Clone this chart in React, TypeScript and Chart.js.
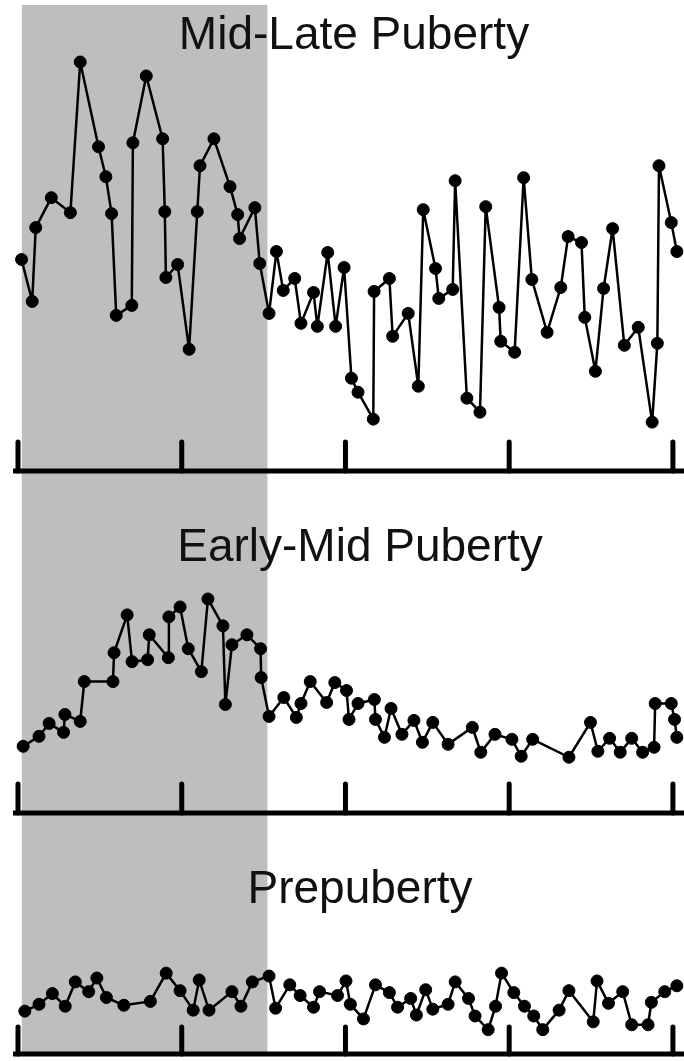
import React, { useEffect, useRef } from "react";
import { Chart, registerables } from "chart.js";

Chart.register(...registerables);

// Time axis (hours from start of sampling)
const tickHours = [0, 6, 12, 18, 24];
const xMax = 24.15;
const nightStart = 0.14;
const nightEnd = 9.14;

// Mid-Late Puberty
const midLateHours = [0.13, 0.52, 0.65, 1.22, 1.92, 2.28, 2.95, 3.22, 3.43, 3.6, 4.17, 4.21, 4.7, 5.3, 5.38, 5.42, 5.85, 6.27, 6.57, 6.67, 7.18, 7.77, 8.05, 8.12, 8.68, 8.86, 9.2, 9.47, 9.72, 10.14, 10.37, 10.83, 10.97, 11.35, 11.64, 11.95, 12.22, 12.46, 13.02, 13.05, 13.61, 13.73, 14.3, 14.67, 14.85, 15.3, 15.42, 15.93, 16.02, 16.45, 16.93, 17.14, 17.63, 17.69, 18.2, 18.53, 18.83, 19.39, 19.89, 20.16, 20.65, 20.77, 21.16, 21.46, 21.79, 22.22, 22.73, 23.24, 23.43, 23.49, 23.94, 24.145];
const midLateValues = [2.12, 1.7, 2.44, 2.74, 2.59, 4.1, 3.25, 2.95, 2.58, 1.56, 1.66, 3.29, 3.96, 3.33, 2.6, 1.94, 2.07, 1.22, 2.6, 3.06, 3.33, 2.85, 2.57, 2.33, 2.64, 2.08, 1.58, 2.2, 1.81, 1.93, 1.48, 1.79, 1.45, 2.19, 1.45, 2.04, 0.93, 0.79, 0.52, 1.8, 1.93, 1.35, 1.58, 0.85, 2.62, 2.03, 1.73, 1.82, 2.91, 0.73, 0.59, 2.65, 1.64, 1.3, 1.19, 2.94, 1.92, 1.39, 1.84, 2.35, 2.29, 1.54, 1.0, 1.83, 2.43, 1.26, 1.44, 0.49, 1.28, 3.06, 2.49, 2.2];

// Early-Mid Puberty
const earlyMidHours = [0.19, 0.77, 1.14, 1.67, 1.72, 2.28, 2.43, 3.48, 3.52, 4.0, 4.18, 4.75, 4.81, 5.51, 5.53, 5.94, 6.24, 6.72, 6.96, 7.51, 7.6, 7.84, 8.39, 8.89, 8.91, 9.2, 9.74, 10.2, 10.37, 10.71, 11.31, 11.61, 12.04, 12.13, 12.46, 13.06, 13.1, 13.43, 13.67, 14.07, 14.51, 14.82, 15.2, 15.76, 16.65, 16.96, 17.48, 18.1, 18.44, 18.86, 20.19, 20.98, 21.25, 21.68, 22.07, 22.49, 22.89, 23.31, 23.35, 23.94, 24.06, 24.145];
const earlyMidValues = [0.67, 0.77, 0.9, 0.81, 0.99, 0.92, 1.32, 1.32, 1.61, 1.99, 1.52, 1.54, 1.79, 1.56, 1.97, 2.07, 1.65, 1.42, 2.15, 1.88, 1.09, 1.69, 1.79, 1.65, 1.36, 0.97, 1.16, 0.96, 1.1, 1.32, 1.11, 1.31, 1.23, 0.94, 1.1, 1.14, 0.94, 0.76, 1.05, 0.79, 0.93, 0.71, 0.91, 0.69, 0.86, 0.61, 0.79, 0.74, 0.57, 0.74, 0.56, 0.91, 0.62, 0.75, 0.61, 0.75, 0.61, 0.66, 1.1, 1.1, 0.94, 0.76];

// Prepuberty
const prepubertyHours = [0.25, 0.77, 1.26, 1.73, 2.1, 2.59, 2.89, 3.24, 3.88, 4.85, 5.43, 5.94, 6.42, 6.64, 7.0, 7.84, 8.17, 8.59, 9.2, 9.44, 9.96, 10.34, 10.83, 11.05, 11.71, 12.02, 12.18, 12.66, 13.1, 13.61, 13.91, 14.39, 14.6, 14.94, 15.2, 15.76, 16.02, 16.51, 16.75, 17.23, 17.5, 17.72, 18.17, 18.56, 18.9, 19.23, 19.83, 20.19, 21.08, 21.22, 21.64, 22.16, 22.49, 23.09, 23.21, 23.7, 24.145];
const prepubertyValues = [0.44, 0.51, 0.62, 0.49, 0.74, 0.64, 0.78, 0.58, 0.5, 0.54, 0.83, 0.65, 0.45, 0.76, 0.45, 0.64, 0.49, 0.74, 0.8, 0.47, 0.71, 0.6, 0.48, 0.64, 0.6, 0.75, 0.51, 0.36, 0.71, 0.63, 0.48, 0.57, 0.4, 0.66, 0.46, 0.51, 0.74, 0.57, 0.39, 0.25, 0.49, 0.83, 0.63, 0.49, 0.39, 0.25, 0.45, 0.65, 0.33, 0.75, 0.52, 0.64, 0.3, 0.3, 0.53, 0.64, 0.7];

const panelTitles = ["Mid-Late Puberty", "Early-Mid Puberty", "Prepuberty"];

type PanelSpec = {
  title: string;
  hours: number[];
  values: number[];
  height: number;
  axisY: number;
  areaTop: number;
  yMax: number;
  bandTop: number;
  bandToAxis: boolean;
  titleX: number;
  titleBaseline: number;
  tickLen: number;
};

const panels: PanelSpec[] = [
  { title: panelTitles[0], hours: midLateHours, values: midLateValues, height: 478, axisY: 472, areaTop: 60, yMax: 4.12, bandTop: 5, bandToAxis: false, titleX: 354, titleBaseline: 49, tickLen: 29 },
  { title: panelTitles[1], hours: earlyMidHours, values: earlyMidValues, height: 342, axisY: 336, areaTop: 112, yMax: 2.24, bandTop: 0, bandToAxis: false, titleX: 360, titleBaseline: 83, tickLen: 29 },
  { title: panelTitles[2], hours: prepubertyHours, values: prepubertyValues, height: 241, axisY: 237, areaTop: 120, yMax: 1.17, bandTop: 0, bandToAxis: true, titleX: 360, titleBaseline: 83, tickLen: 27 },
];

const decorPlugin = {
  id: "panelDecor",
  beforeDatasetsDraw(chart: any, _args: any, opts: any) {
    const { ctx, chartArea } = chart;
    const x = chart.scales.x;
    const left = x.getPixelForValue(nightStart);
    const right = x.getPixelForValue(nightEnd);
    const bottom = opts.bandToAxis ? chartArea.bottom : chart.height;
    ctx.save();
    ctx.fillStyle = "#bebebe";
    ctx.fillRect(left, opts.bandTop, right - left, bottom - opts.bandTop);

    ctx.fillStyle = "#111111";
    ctx.font = "46px 'Liberation Sans', Arial, Helvetica, sans-serif";
    ctx.textAlign = "center";
    ctx.textBaseline = "alphabetic";
    ctx.fillText(opts.title, opts.titleX, opts.titleBaseline);

    ctx.strokeStyle = "#000000";
    ctx.lineWidth = 5;
    ctx.lineCap = "butt";
    ctx.beginPath();
    ctx.moveTo(chartArea.left - 5, chartArea.bottom);
    ctx.lineTo(chart.width, chartArea.bottom);
    ctx.stroke();

    ctx.lineWidth = 5;
    ctx.lineCap = "round";
    for (const t of tickHours) {
      const px = x.getPixelForValue(t);
      ctx.beginPath();
      ctx.moveTo(px, chartArea.bottom - opts.tickLen);
      ctx.lineTo(px, chartArea.bottom);
      ctx.stroke();
    }
    ctx.restore();
  },
};

function Panel({ spec }: { spec: PanelSpec }) {
  const ref = useRef<HTMLCanvasElement | null>(null);
  useEffect(() => {
    if (!ref.current) return;
    const chart = new Chart(ref.current, {
      type: "line",
      data: {
        datasets: [
          {
            data: spec.hours.map((h, i) => ({ x: h, y: spec.values[i] })),
            borderColor: "#000000",
            borderWidth: 2.5,
            borderJoinStyle: "round",
            borderCapStyle: "round",
            pointRadius: 6,
            pointBackgroundColor: "#000000",
            pointBorderColor: "#000000",
            pointBorderWidth: 1,
            tension: 0,
            clip: false as any,
          },
        ],
      },
      options: {
        animation: false,
        responsive: false,
        events: [],
        layout: { padding: { left: 18, right: 0, top: spec.areaTop, bottom: spec.height - spec.axisY } },
        scales: {
          x: { type: "linear", min: 0, max: xMax, display: false },
          y: { type: "linear", min: 0, max: spec.yMax, display: false },
        },
        plugins: {
          legend: { display: false },
          tooltip: { enabled: false },
          title: { display: false },
          panelDecor: {
            title: spec.title,
            titleX: spec.titleX,
            titleBaseline: spec.titleBaseline,
            bandTop: spec.bandTop,
            bandToAxis: spec.bandToAxis,
            tickLen: spec.tickLen,
          },
        } as any,
      },
      plugins: [decorPlugin],
    });
    return () => chart.destroy();
  }, [spec]);
  return (
    <canvas
      ref={ref}
      width={684}
      height={spec.height}
      style={{ display: "block", width: 684, height: spec.height }}
    />
  );
}

export default function App() {
  return (
    <div style={{ position: "absolute", left: 0, top: 0, width: 684, background: "#ffffff" }}>
      {panels.map((p) => (
        <Panel key={p.title} spec={p} />
      ))}
    </div>
  );
}
